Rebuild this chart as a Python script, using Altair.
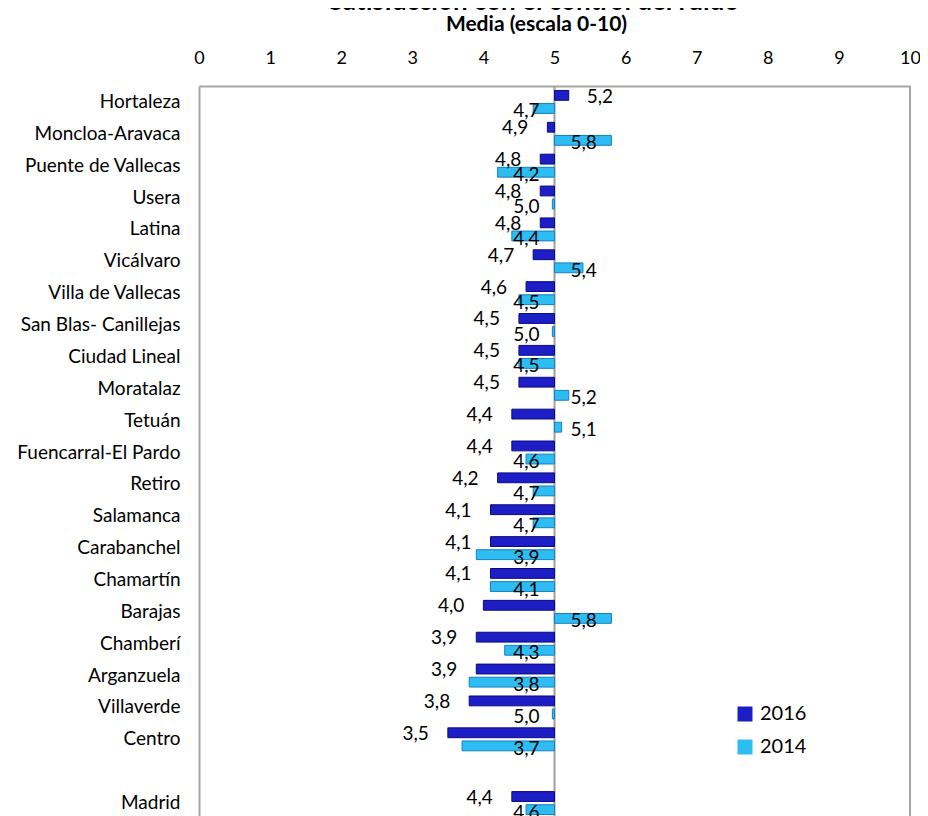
import altair as alt
import pandas as pd

districts = ["Hortaleza", "Moncloa-Aravaca", "Puente de Vallecas", "Usera", "Latina",
             "Vicálvaro", "Villa de Vallecas", "San Blas- Canillejas", "Ciudad Lineal",
             "Moratalaz", "Tetuán", "Fuencarral-El Pardo", "Retiro", "Salamanca",
             "Carabanchel", "Chamartín", "Barajas", "Chamberí", "Arganzuela",
             "Villaverde", "Centro", "Madrid"]
v2016 = [5.2, 4.9, 4.8, 4.8, 4.8, 4.7, 4.6, 4.5, 4.5, 4.5, 4.4, 4.4, 4.2, 4.1, 4.1,
         4.1, 4.0, 3.9, 3.9, 3.8, 3.5, 4.4]
v2014 = [4.7, 5.8, 4.2, 4.97, 4.4, 5.4, 4.5, 4.97, 4.5, 5.2, 5.1, 4.6, 4.7, 4.7, 3.9,
         4.1, 5.8, 4.3, 3.8, 4.97, 3.7, 4.6]
years = ["2016", "2014"]
ticks = list(range(0, 11))

domain = districts[:-1] + [" "] + districts[-1:]

rows = []
for d, a, b in zip(districts, v2016, v2014):
    rows.append({"district": d, "year": "2016", "value": a})
    rows.append({"district": d, "year": "2014", "value": b})
df = pd.DataFrame(rows)

FONT = "Lato"

y_enc = alt.Y("district:N", sort=domain,
              scale=alt.Scale(domain=domain, paddingInner=0.28, paddingOuter=0.14),
              axis=alt.Axis(title=None, ticks=False, labelPadding=19, labelFontSize=19,
                            labelFont=FONT, labelColor="#000", domainColor="#a6a6a6",
                            domainWidth=2, grid=False, labelLimit=300))
yoff = alt.YOffset("year:N", sort=years, scale=alt.Scale(domain=years, paddingInner=0.25))
x_enc = alt.X("value:Q", scale=alt.Scale(domain=[0, 10], nice=False),
              axis=alt.Axis(orient="top", values=ticks, format="d", ticks=False,
                            labelPadding=19, labelFontSize=18, labelFont=FONT,
                            labelColor="#000", labelFlush=False, labelOverlap=False,
                            domainColor="#a6a6a6", domainWidth=2, grid=False,
                            title="Media (escala 0-10)", titleFont=FONT, titleFontSize=21,
                            titleFontWeight="bold", titleColor="#000",
                            titleX=337, titleY=-52, titleBaseline="bottom"))

base = alt.Chart(df)

bars = base.mark_bar(strokeWidth=1).encode(
    x=x_enc,
    x2=alt.datum(5),
    y=y_enc,
    yOffset=yoff,
    fill=alt.Fill("year:N", sort=years,
                  scale=alt.Scale(domain=years, range=["#1e1ec6", "#2dbdf2"]),
                  legend=alt.Legend(title=None, orient="none", legendX=536, legendY=618,
                                    symbolType="square", symbolSize=225,
                                    symbolStrokeWidth=0, labelFontSize=20,
                                    labelFont=FONT, labelColor="#000", rowPadding=13,
                                    labelOffset=5, padding=0)),
    stroke=alt.Stroke("year:N", sort=years,
                      scale=alt.Scale(domain=years, range=["#0a0a80", "#1480bd"]),
                      legend=None),
)

lbl = alt.Chart(df).transform_calculate(
    label="replace(format(datum.value, '.1f'), '.', ',')"
)

tstyle = dict(fontSize=19, font=FONT, color="#000", baseline="middle")

t16l = lbl.transform_filter("datum.year == '2016' && datum.value < 5").mark_text(
    align="right", dx=-19, dy=1, **tstyle).encode(
    x="value:Q", y=alt.Y("district:N", sort=domain), yOffset=yoff, text="label:N")
t16r = lbl.transform_filter("datum.year == '2016' && datum.value > 5").mark_text(
    align="left", dx=18, dy=2, **tstyle).encode(
    x="value:Q", y=alt.Y("district:N", sort=domain), yOffset=yoff, text="label:N")
t14l = lbl.transform_filter("datum.year == '2014' && datum.value < 5.05").mark_text(
    align="right", dx=-15, dy=3, **tstyle).encode(
    x=alt.datum(5), y=alt.Y("district:N", sort=domain), yOffset=yoff, text="label:N")
t14r = lbl.transform_filter("datum.year == '2014' && datum.value >= 5.05").mark_text(
    align="left", dx=16, dy=3, **tstyle).encode(
    x=alt.datum(5), y=alt.Y("district:N", sort=domain), yOffset=yoff, text="label:N")

mid = alt.Chart(pd.DataFrame({"v": [5]})).mark_rule(color="#a0a0a0", strokeWidth=2).encode(
    x=alt.X("v:Q"))
right = alt.Chart(pd.DataFrame({"v": [10]})).mark_rule(color="#a6a6a6", strokeWidth=2).encode(
    x=alt.X("v:Q"))

title = alt.Chart(pd.DataFrame({"t": ["Satisfacción con el control del ruido"]})).mark_text(
    font=FONT, fontSize=26, fontWeight="bold", color="#000", align="center",
    baseline="alphabetic").encode(
    x=alt.value(335), y=alt.value(-76), text="t:N")

chart = alt.layer(mid, right, bars, t16l, t16r, t14l, t14r, title).properties(
    width=711, height=733,
    autosize=alt.AutoSizeParams(type="none"),
    padding={"left": 191, "top": 78, "right": 10, "bottom": -3},
).configure_view(stroke=None).configure(background="white")

chart.save("out.html", embed_options={"renderer": "svg", "actions": False})
